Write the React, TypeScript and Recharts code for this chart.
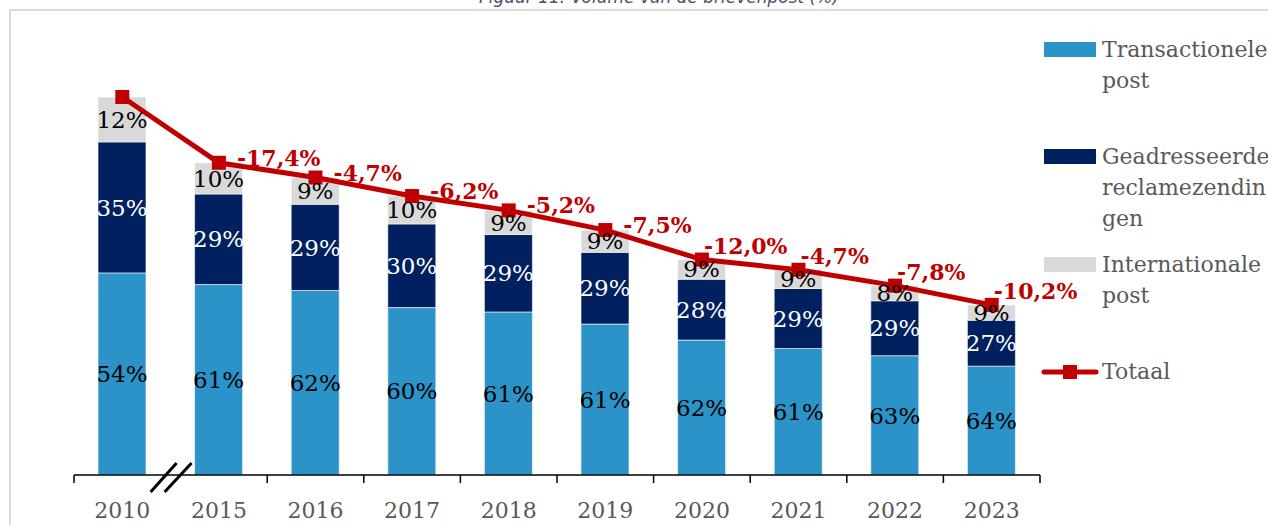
import React from "react";
import {
  ComposedChart,
  Bar,
  Line,
  XAxis,
  YAxis,
  LabelList,
} from "recharts";

const years = ["2010", "2015", "2016", "2017", "2018", "2019", "2020", "2021", "2022", "2023"];
// share of each stream in the yearly volume (%)
const transactioneel = [54, 61, 62, 60, 61, 61, 62, 61, 63, 64];
const geadresseerd = [35, 29, 29, 30, 29, 29, 28, 29, 29, 27];
const internationaal = [12, 10, 9, 10, 9, 9, 9, 9, 8, 9];
// total volume, index 2010 = 100
const totaal = [100, 82.6, 78.7, 73.8, 70.0, 64.8, 57.0, 54.3, 50.1, 45.0];
const totaalChange = [null, "-17,4%", "-4,7%", "-6,2%", "-5,2%", "-7,5%", "-12,0%", "-4,7%", "-7,8%", "-10,2%"];

const data = years.map((year, i) => {
  const sum = transactioneel[i] + geadresseerd[i] + internationaal[i];
  return {
    year,
    trans: (totaal[i] * transactioneel[i]) / sum,
    adr: (totaal[i] * geadresseerd[i]) / sum,
    intl: (totaal[i] * internationaal[i]) / sum,
    pTrans: transactioneel[i],
    pAdr: geadresseerd[i],
    pIntl: internationaal[i],
    totaal: totaal[i],
    change: totaalChange[i],
  };
});

const LIGHT = "#2B93C7";
const NAVY = "#002060";
const GREY = "#D9D9D9";
const RED = "#C00000";
const SERIF = "'DejaVu Serif', serif";

const AX_LEFT = 74;
const AX_RIGHT = 1040;
const BAND = (AX_RIGHT - AX_LEFT) / years.length;

const YearTick = (props: any) => {
  const { x, y, index, payload } = props;
  const half = BAND / 2;
  const b = x + half;
  return (
    <g>
      {index !== 1 && (
        <line x1={x - half} x2={x - half} y1={y} y2={y + 8} stroke="#000" strokeWidth={1.5} />
      )}
      {index === years.length - 1 && (
        <line x1={x + half} x2={x + half} y1={y} y2={y + 8} stroke="#000" strokeWidth={1.5} />
      )}
      {index === 0 && (
        <g stroke="#000" strokeWidth={3}>
          <line x1={b - 20} y1={y + 17} x2={b + 6} y2={y - 12} />
          <line x1={b - 6} y1={y + 17} x2={b + 21} y2={y - 12} />
        </g>
      )}
      <text x={x} y={y + 43} textAnchor="middle" fontFamily={SERIF} fontSize={22} fill="#595959">
        {payload.value}
      </text>
    </g>
  );
};

const SquareDot = (props: any) => {
  const { cx, cy, index } = props;
  return <rect key={`dot-${index}`} x={cx - 7} y={cy - 7} width={14} height={14} fill={RED} />;
};

const ChangeLabel = (props: any) => {
  const { x, y, value, index } = props;
  if (!value) return null;
  const early = index <= 5;
  return (
    <text
      x={x + (early ? 18 : 2)}
      y={y + (early ? -5 : -14)}
      dominantBaseline="central"
      textAnchor="start"
      fontFamily={SERIF}
      fontWeight="bold"
      fontSize={22}
      fill={RED}
    >
      {value}
    </text>
  );
};

const pct = (v: any) => `${v}%`;

const legendItems = [
  { color: LIGHT, lines: ["Transactionele", "post"], top: 42 },
  { color: NAVY, lines: ["Geadresseerde", "reclamezendin", "gen"], top: 149 },
  { color: GREY, lines: ["Internationale", "post"], top: 257 },
];

export default function App() {
  return (
    <div
      style={{
        position: "absolute",
        left: 0,
        top: 0,
        width: 1268,
        height: 525,
        overflow: "hidden",
        background: "#fff",
      }}
    >
      <div
        style={{
          position: "absolute",
          left: 9,
          top: 9,
          width: 1400,
          height: 700,
          border: "2px solid #DCDCDC",
        }}
      />
      <svg width={1268} height={30} style={{ position: "absolute", left: 0, top: 0 }}>
        <text
          x={659}
          y={3}
          textAnchor="middle"
          fontFamily="'DejaVu Sans', sans-serif"
          fontStyle="italic"
          fontSize={17}
          fill="#44546A"
        >
          Figuur 11: Volume van de brievenpost (%)
        </text>
      </svg>
      <div style={{ position: "absolute", left: 0, top: 0 }}>
        <ComposedChart
          width={1268}
          height={525}
          data={data}
          margin={{ top: 97, right: 1268 - AX_RIGHT, bottom: 0, left: AX_LEFT }}
        >
          <XAxis
            dataKey="year"
            interval={0}
            height={50}
            tickLine={false}
            tickSize={0}
            tickMargin={0}
            axisLine={{ stroke: "#000", strokeWidth: 1.5 }}
            tick={<YearTick />}
          />
          <YAxis hide domain={[0, 100]} />
          <Bar dataKey="trans" stackId="a" fill={LIGHT} barSize={48} stroke="#fff" strokeWidth={0.6} isAnimationActive={false}>
            <LabelList dataKey="pTrans" position="center" formatter={pct} fill="#000" fontFamily={SERIF} fontSize={23} />
          </Bar>
          <Bar dataKey="adr" stackId="a" fill={NAVY} barSize={48} stroke="#fff" strokeWidth={0.6} isAnimationActive={false}>
            <LabelList dataKey="pAdr" position="center" formatter={pct} fill="#fff" fontFamily={SERIF} fontSize={23} />
          </Bar>
          <Bar dataKey="intl" stackId="a" fill={GREY} barSize={48} stroke="#fff" strokeWidth={0.6} isAnimationActive={false}>
            <LabelList dataKey="pIntl" position="center" formatter={pct} fill="#000" fontFamily={SERIF} fontSize={23} />
          </Bar>
          <Line
            dataKey="totaal"
            type="linear"
            stroke={RED}
            strokeWidth={5}
            dot={SquareDot}
            activeDot={false}
            isAnimationActive={false}
          >
            <LabelList dataKey="change" content={ChangeLabel} />
          </Line>
        </ComposedChart>
      </div>
      {legendItems.map((item) => (
        <div key={item.lines[0]}>
          <div
            style={{
              position: "absolute",
              left: 1044,
              top: item.top,
              width: 52,
              height: 15,
              background: item.color,
            }}
          />
          <div
            style={{
              position: "absolute",
              left: 1102,
              top: item.top - 8,
              fontFamily: SERIF,
              fontSize: 22,
              lineHeight: "31px",
              color: "#595959",
              whiteSpace: "nowrap",
            }}
          >
            {item.lines.map((l) => (
              <div key={l}>{l}</div>
            ))}
          </div>
        </div>
      ))}
      <svg width={60} height={20} style={{ position: "absolute", left: 1040, top: 362 }}>
        <line x1={4} x2={56} y1={10} y2={10} stroke={RED} strokeWidth={5} strokeLinecap="round" />
        <rect x={23} y={3} width={14} height={14} fill={RED} />
      </svg>
      <div
        style={{
          position: "absolute",
          left: 1102,
          top: 356,
          fontFamily: SERIF,
          fontSize: 22,
          lineHeight: "31px",
          color: "#595959",
        }}
      >
        Totaal
      </div>
    </div>
  );
}
